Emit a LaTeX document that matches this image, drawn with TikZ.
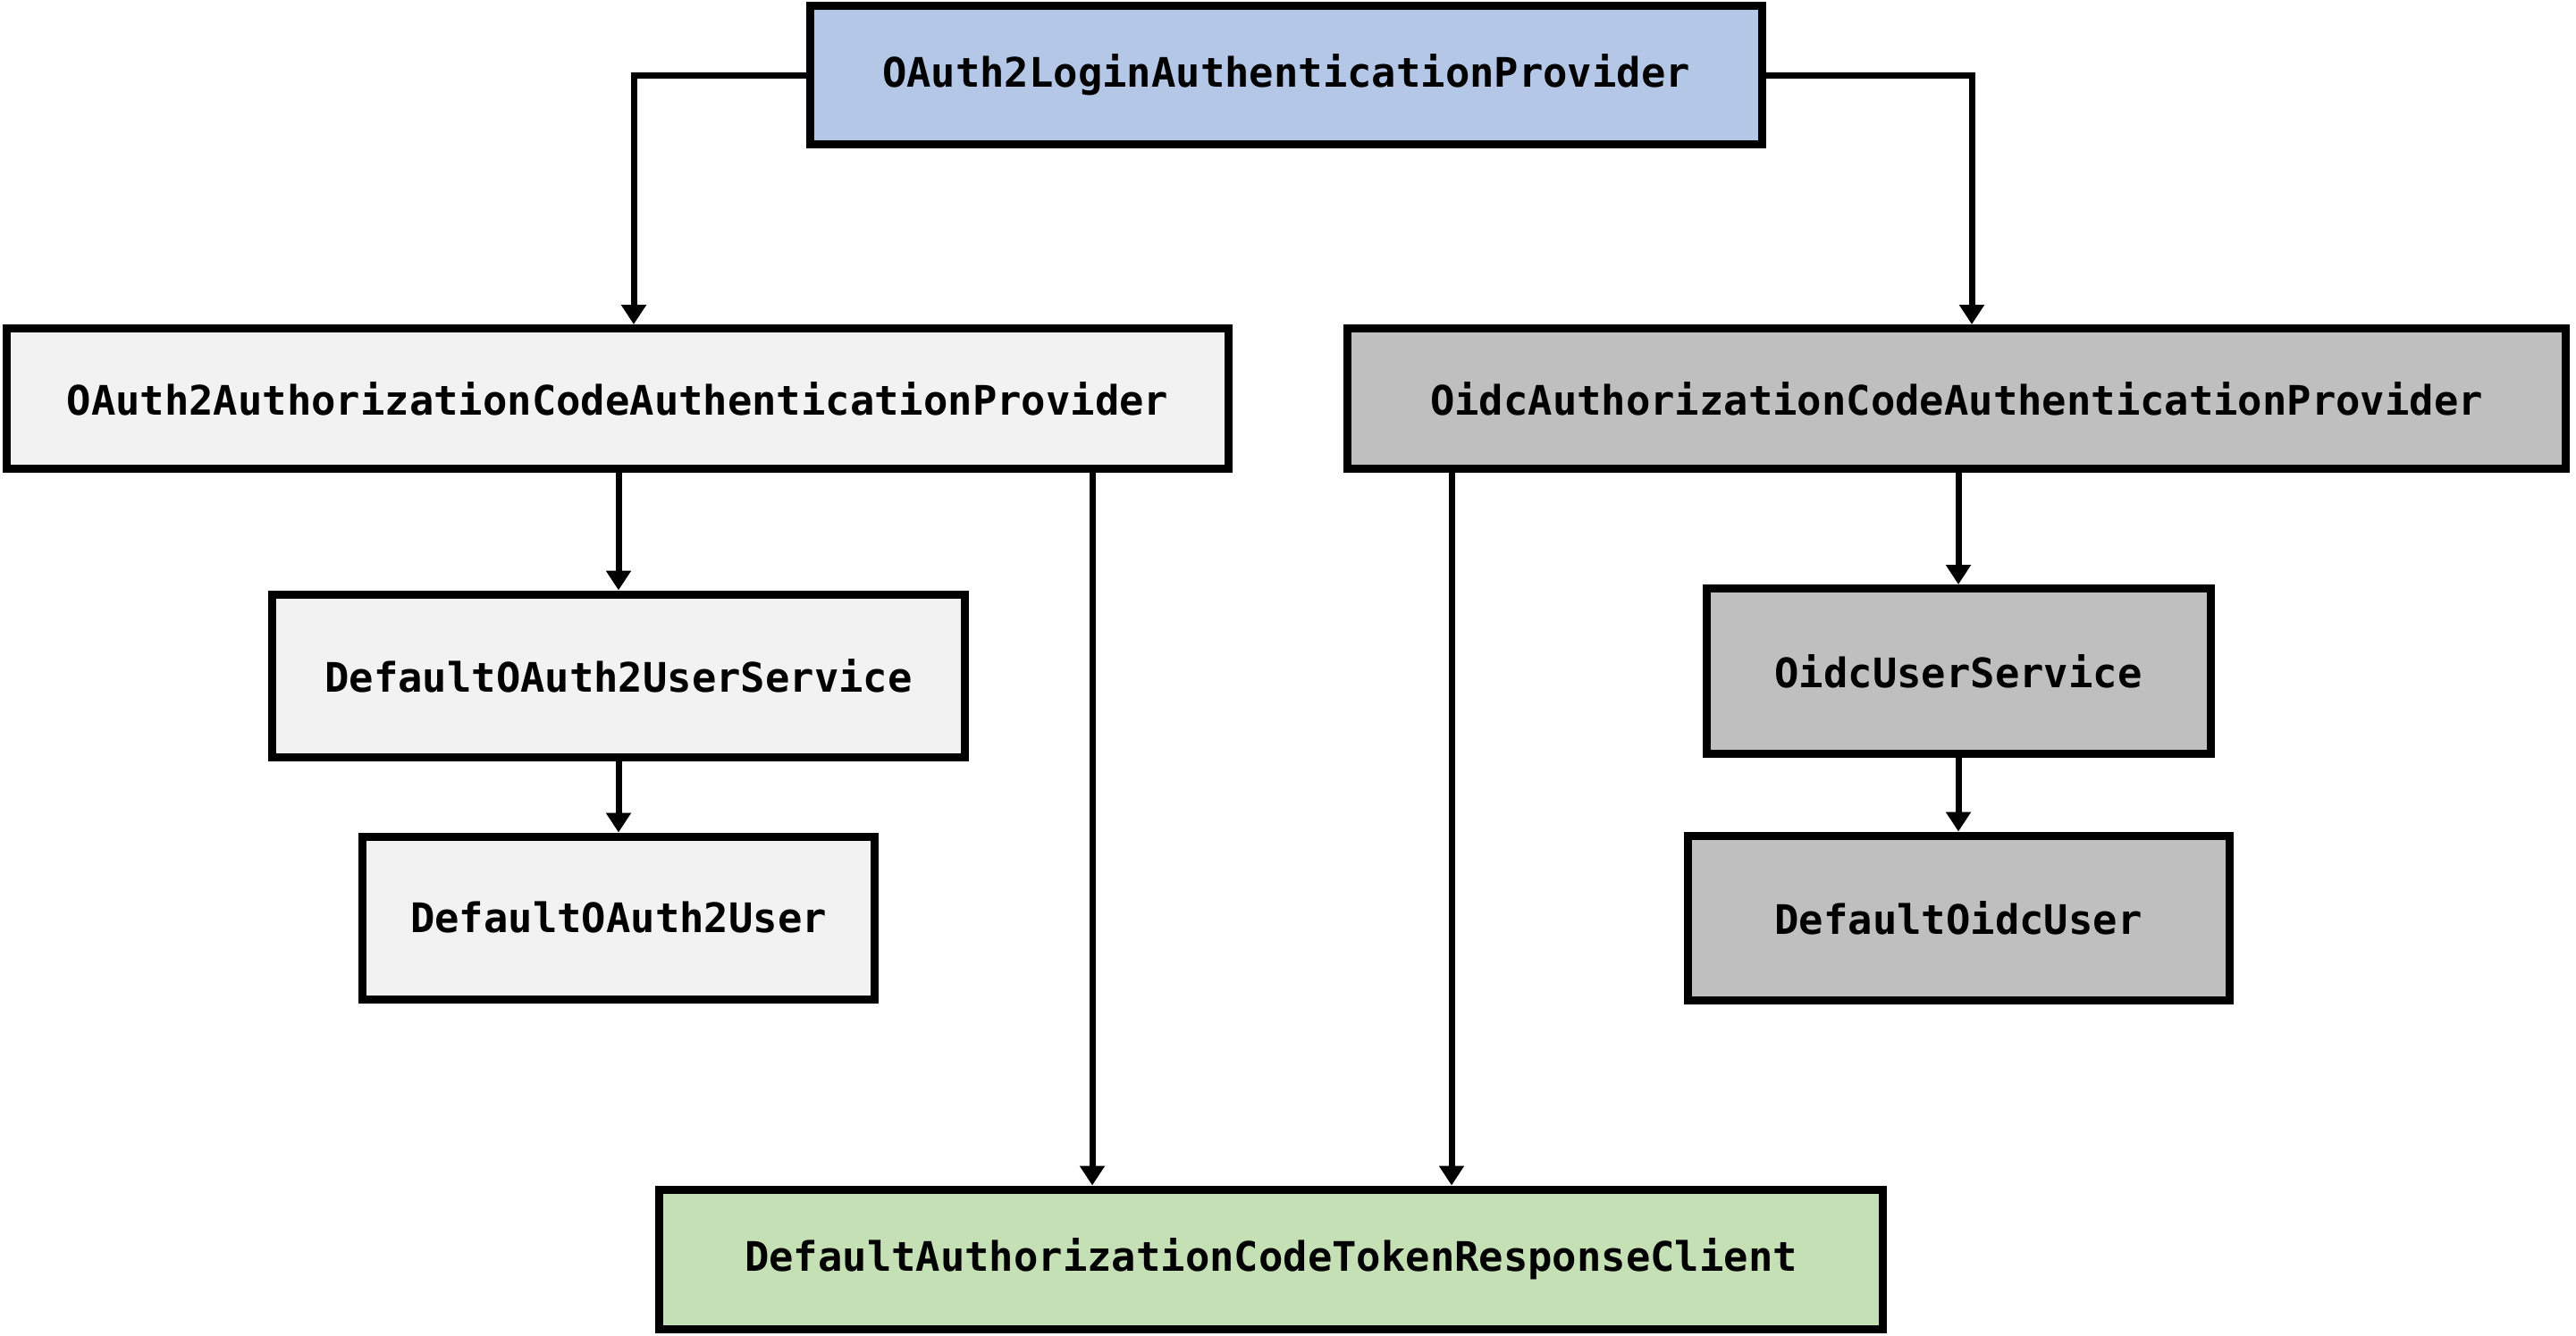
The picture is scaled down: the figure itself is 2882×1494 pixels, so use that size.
\documentclass[tikz,border=0pt]{standalone}
\usepackage{fontspec}
\setmonofont{DejaVu Sans Mono}
\usetikzlibrary{arrows.meta}
\definecolor{cblue}{HTML}{B4C7E7}
\definecolor{clight}{HTML}{F2F2F2}
\definecolor{cgray}{HTML}{BFBFBF}
\definecolor{cgreen}{HTML}{C5E0B4}
\begin{document}
\begin{tikzpicture}[x=1pt,y=-1pt,
  box/.style={draw=black, line width=9pt, rectangle, inner sep=0pt,
    font=\fontsize{45.5}{50}\selectfont\ttfamily\bfseries},
  conn/.style={line width=7pt, -{Triangle[length=22pt,width=27pt]}}]
\useasboundingbox (0,0) rectangle (2882,1494);
\node[box, fill=cblue,  minimum width=1065pt, minimum height=155pt] (A) at (1439,84) {OAuth2LoginAuthenticationProvider};
\node[box, fill=clight, minimum width=1367pt, minimum height=157pt] (B) at (691,446) {OAuth2AuthorizationCodeAuthenticationProvider};
\node[box, fill=cgray,  minimum width=1363pt, minimum height=157pt] (C) at (2189,446) {OidcAuthorizationCodeAuthenticationProvider};
\node[box, fill=clight, minimum width=775pt, minimum height=182pt] (D) at (692,756) {DefaultOAuth2UserService};
\node[box, fill=clight, minimum width=573pt, minimum height=182pt] (E) at (692,1027) {DefaultOAuth2User};
\node[box, fill=cgray,  minimum width=564pt, minimum height=185pt] (F) at (2191,751) {OidcUserService};
\node[box, fill=cgray,  minimum width=606pt, minimum height=184pt] (G) at (2191,1027) {DefaultOidcUser};
\node[box, fill=cgreen, minimum width=1369pt, minimum height=156pt] (H) at (1422,1409) {DefaultAuthorizationCodeTokenResponseClient};
\coordinate (xl) at (709,0);
\coordinate (xr) at (2206,0);
\coordinate (x1) at (1222,0);
\coordinate (x2) at (1624,0);
\draw[conn] (A.west) -| (B.north -| xl);
\draw[conn] (A.east) -| (C.north -| xr);
\draw[conn] (B.south -| D.north) -- (D.north);
\draw[conn] (D.south) -- (E.north);
\draw[conn] (C.south -| F.north) -- (F.north);
\draw[conn] (F.south) -- (G.north);
\draw[conn] (B.south -| x1) -- (H.north -| x1);
\draw[conn] (C.south -| x2) -- (H.north -| x2);
\end{tikzpicture}
\end{document}
